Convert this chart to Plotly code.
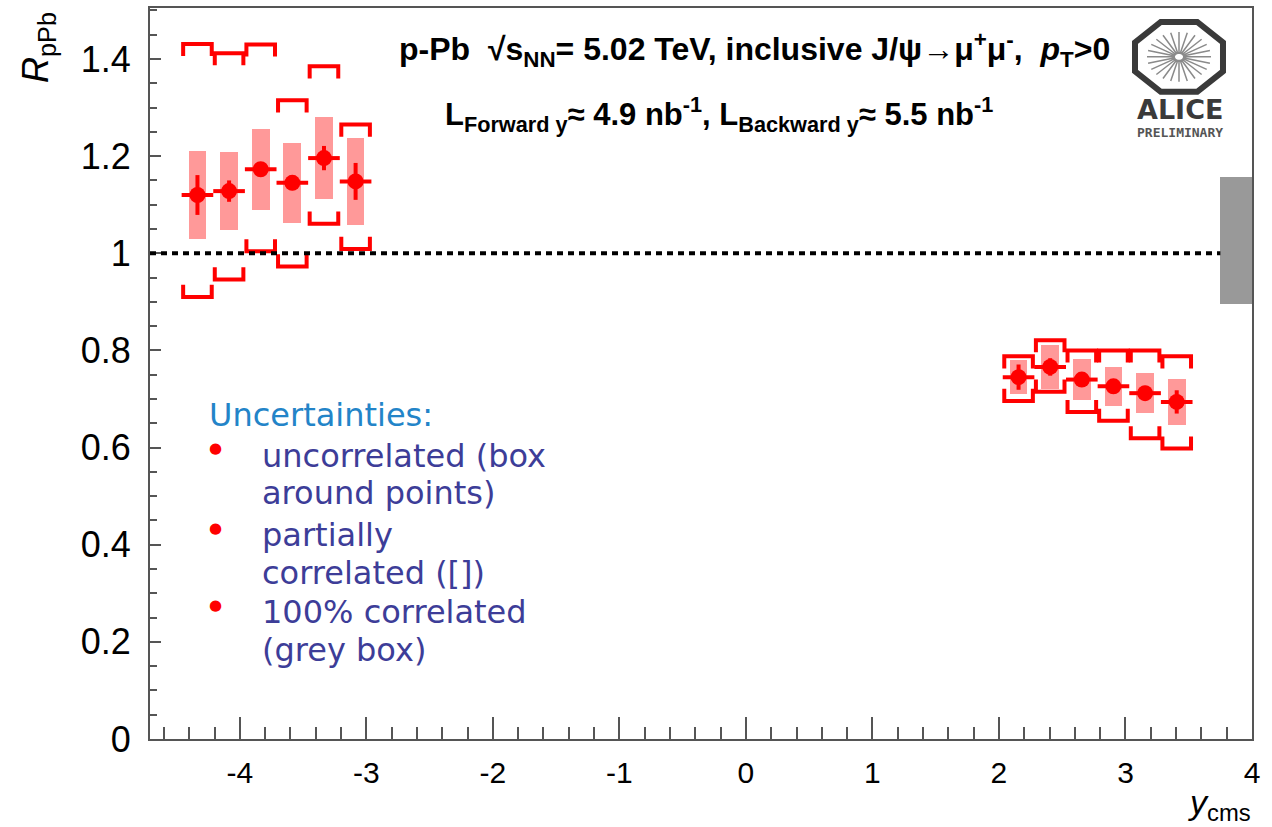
import plotly.graph_objects as go
import math

# ---------------- data ----------------
# backward rapidity bins
y_bwd = [-4.335, -4.085, -3.835, -3.585, -3.335, -3.085]
r_bwd = [1.120, 1.128, 1.173, 1.145, 1.196, 1.148]
stat_bwd = [0.041, 0.022, 0.015, 0.015, 0.025, 0.038]
unc_bwd = [0.090, 0.081, 0.083, 0.082, 0.085, 0.090]
pc_hi_bwd = [1.431, 1.412, 1.430, 1.315, 1.385, 1.265]
pc_lo_bwd = [0.910, 0.946, 1.004, 0.973, 1.061, 1.009]

# forward rapidity bins
y_fwd = [2.155, 2.405, 2.655, 2.905, 3.155, 3.405]
r_fwd = [0.745, 0.766, 0.740, 0.726, 0.712, 0.694]
stat_fwd = [0.026, 0.018, 0.015, 0.015, 0.015, 0.024]
unc_fwd = [0.035, 0.046, 0.043, 0.040, 0.041, 0.047]
pc_hi_fwd = [0.788, 0.821, 0.800, 0.800, 0.800, 0.788]
pc_lo_fwd = [0.696, 0.715, 0.673, 0.655, 0.619, 0.598]

bin_half = 0.125
# global (100% correlated) uncertainty box
glob_x = 3.875
glob_lo = 0.896
glob_hi = 1.157

x_ticks = [-4, -3, -2, -1, 0, 1, 2, 3, 4]
x_ticktext = ["-4", "-3", "-2", "-1", "0", "1", "2", "3", "4"]

# ---------------- style ----------------
RED = "#ff0000"
PINK = "#ff9999"
GREY = "#999999"
X_RANGE = [-4.71, 4.0]
Y_RANGE = [0, 1.505]
L, R, T, B = 150, 20, 6, 88
W, H = 1272, 827
PW, PH = W - L - R, H - T - B


def P(px, py):
    return (px - L) / PW, 1 - (py - T) / PH


fig = go.Figure()

# uncorrelated boxes
for xs, rs, us in [(y_bwd, r_bwd, unc_bwd), (y_fwd, r_fwd, unc_fwd)]:
    fig.add_trace(go.Bar(
        x=xs, y=[2 * u for u in us], base=[r - u for r, u in zip(rs, us)],
        width=0.14, marker=dict(color=PINK, line=dict(width=0)),
        showlegend=False, hoverinfo="skip"))

# global box
fig.add_trace(go.Bar(x=[glob_x], y=[glob_hi - glob_lo], base=[glob_lo], width=2 * bin_half,
                     marker=dict(color=GREY, line=dict(width=0)), showlegend=False, hoverinfo="skip"))

# partially correlated brackets
bw = 0.113
leg = 0.025
bx, by = [], []
for xs, his, los in [(y_bwd, pc_hi_bwd, pc_lo_bwd), (y_fwd, pc_hi_fwd, pc_lo_fwd)]:
    for x, hi, lo in zip(xs, his, los):
        bx += [x - bw, x - bw, x + bw, x + bw, None]
        by += [hi - leg, hi, hi, hi - leg, None]
        bx += [x - bw, x - bw, x + bw, x + bw, None]
        by += [lo + leg, lo, lo, lo + leg, None]
fig.add_trace(go.Scatter(x=bx, y=by, mode="lines", line=dict(color=RED, width=4),
                         showlegend=False, hoverinfo="skip"))

# data points
for xs, rs, ss in [(y_bwd, r_bwd, stat_bwd), (y_fwd, r_fwd, stat_fwd)]:
    fig.add_trace(go.Scatter(
        x=xs, y=rs, mode="markers",
        marker=dict(size=16, color=RED),
        error_x=dict(type="constant", value=bin_half, width=0, thickness=4, color=RED),
        error_y=dict(type="data", array=ss, width=0, thickness=4, color=RED),
        showlegend=False))

shapes = []
# dotted unity line
shapes.append(dict(type="line", xref="x", yref="y", x0=X_RANGE[0], x1=glob_x - bin_half,
                   y0=1, y1=1, line=dict(color="black", width=4, dash="6px,5px")))

# ALICE logo octagon
cx, cy = 1179, 55
rx, ry = 44, 35
pts = []
for k in range(8):
    a = math.radians(22.5 + 45 * k)
    pts.append(P(cx + rx * math.cos(a) / math.cos(math.radians(22.5)),
                 cy + ry * math.sin(a) / math.cos(math.radians(22.5))))
path = "M " + " L ".join(f"{x:.5f},{y:.5f}" for x, y in pts) + " Z"
shapes.append(dict(type="path", xref="paper", yref="paper", path=path,
                   line=dict(color="#3a3a3a", width=6)))
rays = ""
for k in range(24):
    a = math.radians(360 / 24 * k)
    x0, y0 = P(cx + 4 * math.cos(a), cy + 3 * math.sin(a))
    x1, y1 = P(cx + 32 * math.cos(a), cy + 25 * math.sin(a))
    rays += f"M {x0:.5f},{y0:.5f} L {x1:.5f},{y1:.5f} "
shapes.append(dict(type="path", xref="paper", yref="paper", path=rays,
                   line=dict(color="#8a8a8a", width=1.5)))

ann = []


def text(px, py, s, size, color="black", family="Liberation Sans, Arial", xanchor="left",
         yanchor="middle", angle=0):
    x, y = P(px, py)
    ann.append(dict(x=x, y=y, xref="paper", yref="paper", text=s, showarrow=False,
                    xanchor=xanchor, yanchor=yanchor, textangle=angle,
                    font=dict(size=size, color=color, family=family)))


# header
text(1112, 48, "<b>p-Pb  √s<sub>NN</sub>= 5.02 TeV, inclusive J/ψ→μ<sup>+</sup>μ<sup>-</sup>,  <i>p</i><sub>T</sub>&gt;0</b>",
     32, xanchor="right")
text(443, 113, "<b>L<sub>Forward y</sub>≈ 4.9 nb<sup>-1</sup>, L<sub>Backward y</sub>≈ 5.5 nb<sup>-1</sup></b>", 31)

# ALICE
text(1180, 108, "<b>ALICE</b>", 27, color="#3a3a3a", family="DejaVu Sans", xanchor="center")
text(1180, 131, "<b>PRELIMINARY</b>", 13, color="#555555", family="DejaVu Sans Mono", xanchor="center")

# axis titles
text(38, 46, "<i>R</i><sub>pPb</sub>", 36, xanchor="center", angle=-90)
text(1253, 805, "<i>y</i><sub>cms</sub>", 34, xanchor="right")

# uncertainty legend
LFONT = "DejaVu Sans, Verdana"
BLUE = "#2384c8"
NAVY = "#3d3d98"
text(207, 414, "Uncertainties:", 32, color=BLUE, family=LFONT)
for py, s in [(455, "uncorrelated (box"), (492, "around points)"), (534, "partially"),
              (573, "correlated ([])"), (612, "100% correlated"), (650, "(grey box)")]:
    text(260, py, s, 32, color=NAVY, family=LFONT)
for py in [447, 527, 605]:
    text(215, py, "●", 15, color=RED, family="DejaVu Sans", xanchor="center")

axis_common = dict(showline=True, linecolor="#555555", linewidth=2, mirror=True,
                   showgrid=False, zeroline=False, ticks="inside", tickcolor="#555555",
                   tickwidth=2)

fig.update_layout(
    width=W, height=H,
    margin=dict(l=L, r=R, t=T, b=B, pad=0),
    paper_bgcolor="white", plot_bgcolor="white",
    barmode="overlay", bargap=0,
    showlegend=False,
    shapes=shapes, annotations=ann,
    xaxis=dict(range=X_RANGE, tickmode="array", tickvals=x_ticks, ticktext=x_ticktext,
               ticklen=22, minor=dict(ticks="inside", ticklen=12, dtick=0.2, tick0=0,
                                      tickwidth=2, tickcolor="#555555"),
               tickfont=dict(size=30, family="Liberation Sans, Arial", color="black"),
               ticklabelstandoff=6, **axis_common),
    yaxis=dict(range=Y_RANGE, dtick=0.2, tick0=0, ticklen=11,
               minor=dict(ticks="inside", ticklen=7, dtick=0.05, tick0=0,
                          tickwidth=2, tickcolor="#555555"),
               tickfont=dict(size=36, family="Liberation Sans, Arial", color="black"),
               ticklabelstandoff=10, **axis_common),
)

fig.write_html("out.html")
